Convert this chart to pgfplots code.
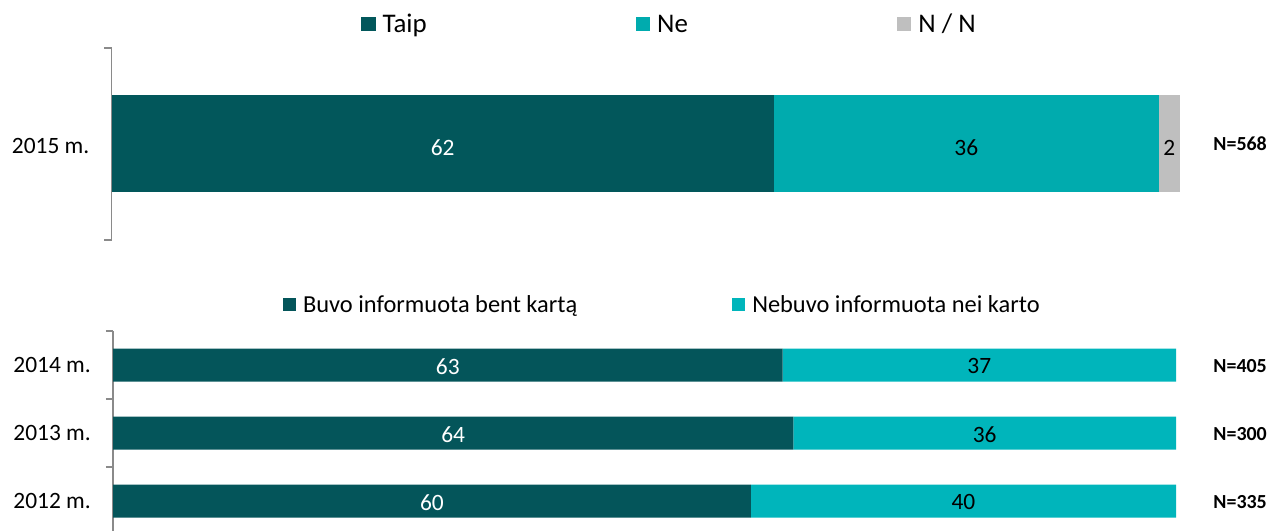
\documentclass[border=0pt]{standalone}
\usepackage{pgfplots}
\pgfplotsset{compat=1.18}
\usepackage{fontspec}
\setmainfont{Carlito}
\definecolor{dk}{HTML}{02575B}
\definecolor{tl}{HTML}{00ABAE}
\definecolor{gr}{HTML}{BFBFBF}
\definecolor{dkb}{HTML}{04555A}
\definecolor{tlb}{HTML}{00B5BB}
\definecolor{axg}{HTML}{8A8A8A}
\tikzset{vl/.style={font=\fontsize{23.5}{28}\selectfont}}
\begin{document}
\begin{tikzpicture}
\path[use as bounding box] (0,0) rectangle (1270bp,531bp);
\pgfplotsset{
  common/.style={
    scale only axis, anchor=south west,
    xbar stacked, xmin=0, xmax=100,
    axis x line=none, axis y line*=left,
    y axis line style={draw=axg, line width=1.3bp},
    tick style={draw=axg, line width=1.3bp},
    major tick length=0pt, minor tick length=7bp,
    tick align=outside,
    yticklabel style={font=\fontsize{23.5}{28}\selectfont, inner sep=0pt, anchor=east, xshift=-22bp},
    clip=false,
  },
}
\begin{axis}[common,
  at={(111.5bp,291bp)}, width=1068.5bp, height=192bp,
  bar width=97bp, ymin=-1, ymax=1,
  ytick={0}, yticklabels={2015 m.}, minor ytick={-1,1},
  yticklabel style={yshift=-2bp},
  legend columns=3,
  legend style={at={(axis description cs:0.2335,1.123)}, anchor=west,
    draw=none, fill=none, inner sep=0pt, outer sep=0pt,
    font=\fontsize{27}{32}\selectfont,
    nodes={inner sep=0pt, outer sep=0pt},
    /tikz/every even column/.append style={column sep=209bp}},
  legend image code/.code={\fill[#1] (0bp,-7bp) rectangle (14.5bp,7bp); \path (21.5bp,0bp);},
]
\addplot[fill=dk, draw=none] coordinates {(62,0)};
\addplot[fill=tl, draw=none] coordinates {(36,0)};
\addplot[fill=gr, draw=none] coordinates {(2,0)};
\legend{Taip,Ne,N / N}
\coordinate (t1) at (axis cs:31,-0.04);
\coordinate (t2) at (axis cs:80,-0.04);
\coordinate (t3) at (axis cs:99,-0.04);
\end{axis}
\begin{axis}[common,
  at={(113bp,0bp)}, width=1063bp, height=200bp,
  bar width=33bp, ymin=-0.441, ymax=2.5,
  ytick={0,1,2}, yticklabels={2012 m.,2013 m.,2014 m.},
  minor ytick={-0.5,0.5,1.5,2.5},
  legend columns=2,
  legend style={at={(axis description cs:0.16,1.13)}, anchor=west,
    draw=none, fill=none, inner sep=0pt, outer sep=0pt,
    font=\fontsize{24.5}{29}\selectfont,
    nodes={inner sep=0pt, outer sep=0pt},
    /tikz/every even column/.append style={column sep=155bp}},
  legend image code/.code={\fill[#1] (0bp,-6.5bp) rectangle (13bp,6.5bp); \path (20bp,0bp);},
]
\addplot[fill=dkb, draw=none] coordinates {(60,0) (64,1) (63,2)};
\addplot[fill=tlb, draw=none] coordinates {(40,0) (36,1) (37,2)};
\legend{Buvo informuota bent kartą,Nebuvo informuota nei karto}
\coordinate (a1) at (axis cs:30,-0.02);
\coordinate (a2) at (axis cs:80,-0.02);
\coordinate (b1) at (axis cs:32,0.98);
\coordinate (b2) at (axis cs:82,0.98);
\coordinate (c1) at (axis cs:31.5,1.98);
\coordinate (c2) at (axis cs:81.5,1.98);
\end{axis}
\node[vl, white] at (t1) {62};
\node[vl, black] at (t2) {36};
\node[vl, black] at (t3) {2};
\node[vl, white] at (a1) {60};
\node[vl, black] at (a2) {40};
\node[vl, white] at (b1) {64};
\node[vl, black] at (b2) {36};
\node[vl, white] at (c1) {63};
\node[vl, black] at (c2) {37};
\begin{scope}[every node/.style={anchor=east, font=\bfseries\fontsize{20}{24}\selectfont, inner sep=0pt}]
\node at (1267bp,387bp) {N=568};
\node at (1267bp,165bp) {N=405};
\node at (1267bp,97bp) {N=300};
\node at (1267bp,29bp) {N=335};
\end{scope}
\end{tikzpicture}
\end{document}
